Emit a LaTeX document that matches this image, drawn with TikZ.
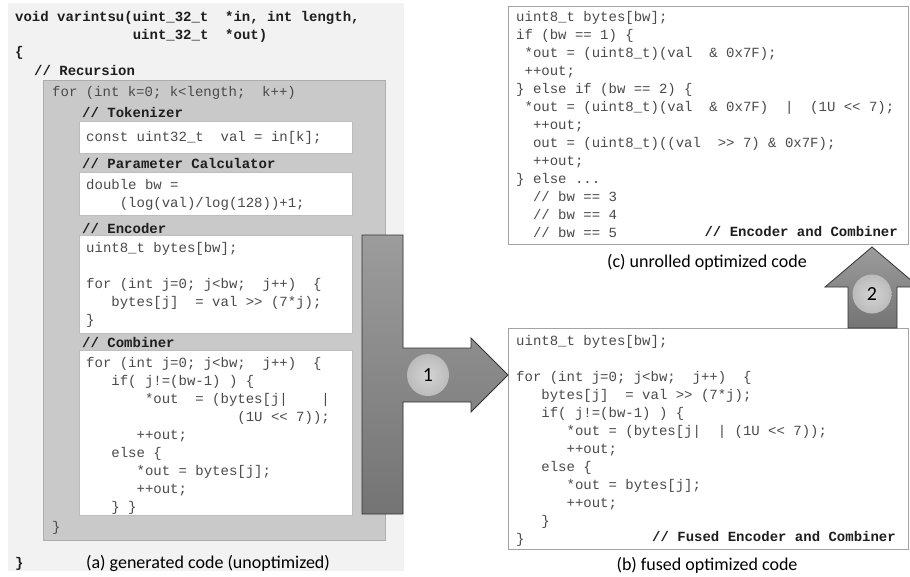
\documentclass[tikz,border=0pt]{standalone}
\usepackage{fontspec}
\setmonofont{Liberation Mono}
\newfontfamily\capfont{Carlito}
\definecolor{panelbg}{HTML}{F2F2F2}
\definecolor{boxbg}{HTML}{C9C9C9}
\definecolor{boxline}{HTML}{ADADAD}
\definecolor{wline}{HTML}{BDBDBD}
\definecolor{pline}{HTML}{A3A3A3}
\definecolor{codegray}{HTML}{4A4A4A}
\definecolor{cmtcol}{HTML}{1E1E1E}
\definecolor{arrtop}{HTML}{9C9C9C}
\definecolor{arrbot}{HTML}{747474}
\definecolor{arrline}{HTML}{333333}
\definecolor{circin}{HTML}{D4D4D4}
\definecolor{circout}{HTML}{BBBBBB}
\newcommand\In[1]{\mbox{}\kern#1\fontdimen2\font}
\tikzset{
  codebase/.style={font=\ttfamily\fontsize{14}{18}\selectfont\frenchspacing, text=codegray, align=left,
    anchor=north west, inner sep=0pt, execute at begin node=\strut},
  codeblk/.style={codebase, yshift=12.6pt},
  codem/.style={codebase, yshift=8.6pt},
  cmtbase/.style={codebase, font=\ttfamily\bfseries\fontsize{14}{18}\selectfont\frenchspacing, text=cmtcol},
  cmt/.style={cmtbase, yshift=12.6pt},
  cmtm/.style={cmtbase, yshift=8.6pt},
  cmtr/.style={cmt, anchor=north east},
  captext/.style={font=\capfont\fontsize{18}{22}\selectfont, inner sep=0pt, text=black},
  wbox/.style={draw=wline, fill=white, line width=0.8pt},
  numc/.style={circle, minimum size=42pt, inner sep=0pt, inner color=circin, outer color=circout,
    font=\capfont\fontsize{20}{24}\selectfont},
  bigarrow/.style={draw=arrline, line width=0.8pt, top color=arrtop, bottom color=arrbot},
  panel/.style={draw=pline, fill=white, line width=1pt}
}
\begin{document}
\begin{tikzpicture}[x=1pt,y=-1pt]
\useasboundingbox (0,0) rectangle (910,576);
\fill[white] (0,0) rectangle (910,576);
% left panel
\fill[panelbg] (8,3) rectangle (404,571);
\draw[draw=boxline, fill=boxbg, line width=0.8pt] (43,80) rectangle (385,540);
\draw[wbox] (79,121) rectangle (352,153);
\draw[wbox] (79,172) rectangle (352,215);
\draw[wbox] (79,235) rectangle (352,333);
\draw[wbox] (79,350) rectangle (352,515);

\node[cmtm] (title) at (15,20) {void varintsu(uint\_32\_t~ *in, int length,\\ \In{14}uint\_32\_t~ *out)};
\node[cmt] (lbrace) at (15,56) {\{};
\node[cmt] (recc) at (34,75) {// Recursion};
\node[codeblk] (forl) at (52,96) {for (int k=0; k<length;~ k++)};
\node[cmt] (tokc) at (82,117) {// Tokenizer};
\node[codeblk] (tok) at (86,141) {const uint32\_t~ val = in[k];};
\node[cmt] (parc) at (82,168) {// Parameter Calculator};
\node[codem] (par) at (86,188) {double bw =\\ \In{4}(log(val)/log(128))+1;};
\node[cmt] (encc) at (82,233) {// Encoder};
\node[codem] (enc) at (86,251) {uint8\_t bytes[bw];\\ \mbox{}\\
for (int j=0; j<bw;~ j++)~ \{\\
\In{3}bytes[j]~ = val >> (7*j);\\
\}};
\node[cmt] (combc) at (82,347) {// Combiner};
\node[codem] (comb) at (86,366) {for (int j=0; j<bw;~ j++)~ \{\\
\In{3}if( j!=(bw-1) ) \{\\
\In{7}*out~ = (bytes[j|~~~ |\\
\In{18}(1U << 7));\\
\In{6}++out;\\
\In{3}else \{\\
\In{6}*out = bytes[j];\\
\In{6}++out;\\
\In{3}\} \}};
\node[codeblk] (forend) at (52,531) {\}};
\node[cmt] (rbrace) at (15,567) {\}};
\node[captext] (capa) at (208,563) {(a) generated code (unoptimized)};

% panel c
\draw[panel] (508,6) rectangle (908,244);
\node[codem] (codec) at (516,20) {uint8\_t bytes[bw];\\
if (bw == 1) \{\\
\In{1}*out = (uint8\_t)(val~ \& 0x7F);\\
\In{1}++out;\\
\} else if (bw == 2) \{\\
\In{1}*out = (uint8\_t)(val~ \& 0x7F)~ |~ (1U << 7);\\
\In{2}++out;\\
\In{2}out = (uint8\_t)((val~ >> 7) \& 0x7F);\\
\In{2}++out;\\
\} else ...\\
\In{2}// bw == 3\\
\In{2}// bw == 4\\
\In{2}// bw == 5};
\node[cmtr] (cmtc) at (898,236) {// Encoder and Combiner};
\node[captext] (capc) at (707,262) {(c) unrolled optimized code};

% panel b
\draw[panel] (508,328) rectangle (908,549);
\node[codem] (codeb) at (516,344) {uint8\_t bytes[bw];\\ \mbox{}\\
for (int j=0; j<bw;~ j++)~ \{\\
\In{3}bytes[j]~ = val >> (7*j);\\
\In{3}if( j!=(bw-1) ) \{\\
\In{6}*out = (bytes[j|~ | (1U << 7));\\
\In{6}++out;\\
\In{3}else \{\\
\In{6}*out = bytes[j];\\
\In{6}++out;\\
\In{3}\}\\
\}};
\node[cmtr] (cmtb) at (896,541) {// Fused Encoder and Combiner};
\node[captext] (capb) at (707,565) {(b) fused optimized code};

% arrow 1
\path[bigarrow] (362,235) -- (403,235) -- (403,348) -- (471,348) -- (471,338) -- (508,375)
  -- (471,412) -- (471,402) -- (403,402) -- (403,514) -- (362,514) -- cycle;
\node[numc] (n1) at (428,375) {1};
% arrow 2
\path[bigarrow] (848,328) -- (848,287) -- (825,287) -- (872,247) -- (919,287) -- (897,287) -- (897,328) -- cycle;
\node[numc, minimum size=39pt] (n2) at (872,294) {2};
\end{tikzpicture}
\end{document}
